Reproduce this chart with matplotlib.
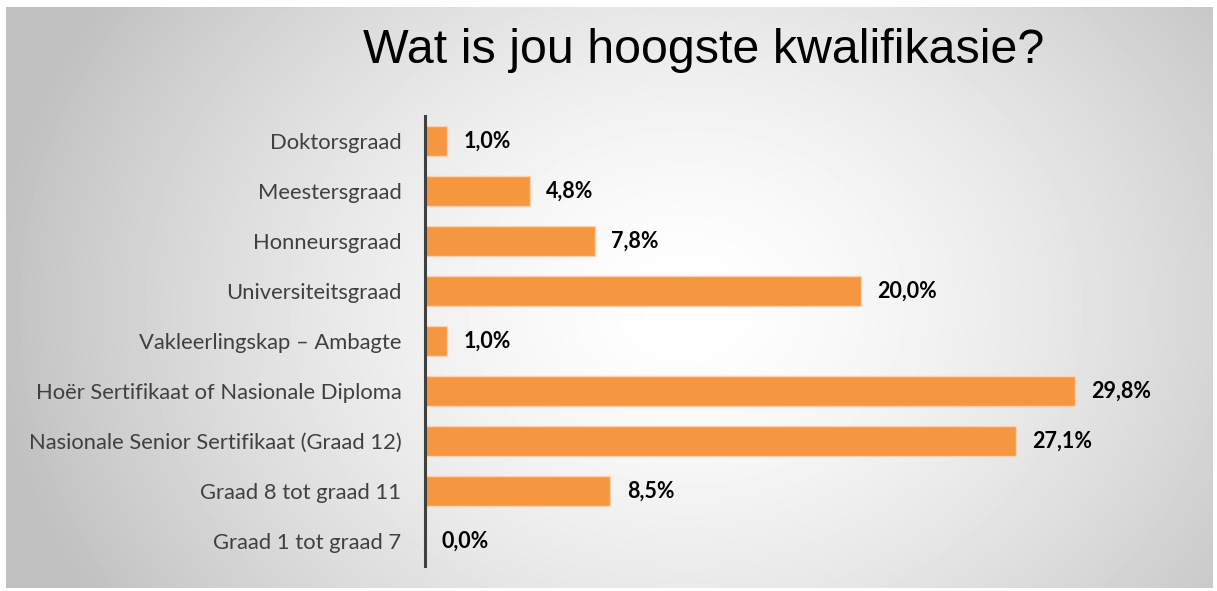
import numpy as np
import matplotlib.pyplot as plt

kategorie = ['Doktorsgraad', 'Meestersgraad', 'Honneursgraad', 'Universiteitsgraad',
             'Vakleerlingskap \u2013 Ambagte', 'Hoër Sertifikaat of Nasionale Diploma',
             'Nasionale Senior Sertifikaat (Graad 12)', 'Graad 8 tot graad 11',
             'Graad 1 tot graad 7']
persent = [1.0, 4.8, 7.8, 20.0, 1.0, 29.8, 27.1, 8.5, 0.0]
etikette = ['1,0%', '4,8%', '7,8%', '20,0%', '1,0%', '29,8%', '27,1%', '8,5%', '0,0%']

W, H = 1217, 591
fig = plt.figure(figsize=(W / 100, H / 100), dpi=100)
fig.patch.set_facecolor('white')

# agtergrond: radiale gradient in 'n paneel
bg = fig.add_axes([6 / W, 1 - 588 / H, 1207 / W, 581 / H])
yy, xx = np.mgrid[0:581, 0:1207]
r = np.sqrt(((xx - 680) / 640.0) ** 2 + ((yy - 300) / 520.0) ** 2)
grys = 1.0 - 0.25 * (np.clip(r, 0, 1.1) / 1.1) ** 1.5
bg.imshow(grys, cmap='gray', vmin=0, vmax=1, aspect='auto', interpolation='bilinear')
bg.axis('off')

ax = fig.add_axes([425 / W, 1 - 566 / H, (1188 - 425) / W, 450 / H])
ax.patch.set_alpha(0)
y = np.arange(len(kategorie))
ax.barh(y, persent, height=0.6, color='#f59641', edgecolor='#fcd2ae', linewidth=1.0)
for yi, v, t in zip(y, persent, etikette):
    ax.text(v + 0.75, yi, t, va='center', ha='left', fontsize=15.5, fontweight='bold',
            family='Lato', color='black')

ax.set_xlim(0, 35)
ax.set_ylim(len(kategorie) - 0.5, -0.5)
ax.set_yticks(y)
ax.set_yticklabels(kategorie, family='Lato', fontsize=15.8, color='#404040')
ax.tick_params(axis='y', length=0, pad=17)
ax.set_xticks([])
for s in ['top', 'right', 'bottom']:
    ax.spines[s].set_visible(False)
ax.spines['left'].set_color('#404040')
ax.spines['left'].set_linewidth(2.2)

fig.text(704 / W, 1 - 63 / H, 'Wat is jou hoogste kwalifikasie?', ha='center', va='baseline',
         fontsize=34.8, family='Liberation Sans', color='black')

fig.savefig('out.png', dpi=100)
